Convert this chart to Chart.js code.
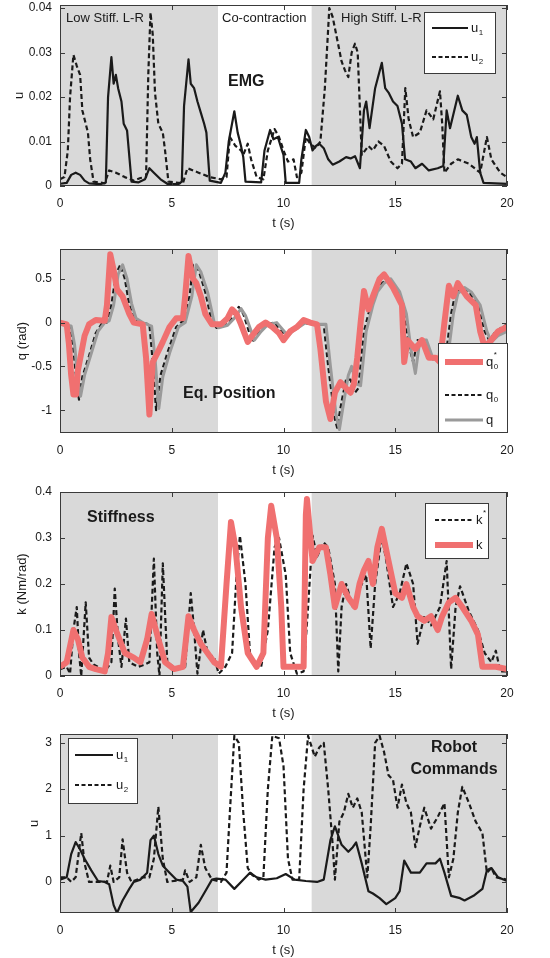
<!DOCTYPE html>
<html>
<head>
<meta charset="utf-8">
<script src="https://cdn.jsdelivr.net/npm/chart.js@4.4.1/dist/chart.umd.min.js"></script>
<style>
html, body { margin: 0; padding: 0; background: #fff; }
#wrap { position: relative; width: 550px; height: 958px; }
canvas { position: absolute; left: 0; }
</style>
</head>
<body>
<div id="wrap">
  <canvas id="c1" width="550" height="231" style="top:0px"></canvas>
  <canvas id="c2" width="550" height="239" style="top:239px"></canvas>
  <canvas id="c3" width="550" height="239" style="top:482px"></canvas>
  <canvas id="c4" width="550" height="234" style="top:724px"></canvas>
</div>
<script>
// ===== data (t [s], value) =====
const xTicks = [0, 5, 10, 15, 20];
const grayZones = [[0, 7.07], [11.26, 20]];

// EMG
const emgTicks = [0, 0.01, 0.02, 0.03, 0.04];
const emgU1 = [[0,0.0005],[0.3,0.0007],[0.5,0.0025],[0.7,0.003],[0.9,0.0025],[1.1,0.0012],[1.3,0.0006],[1.8,0.0004],[2.05,0.0008],[2.15,0.02],[2.3,0.029],[2.4,0.023],[2.5,0.025],[2.6,0.022],[2.75,0.019],[2.85,0.014],[3.0,0.0125],[3.2,0.001],[3.5,0.0008],[3.8,0.0015],[4.0,0.004],[4.2,0.003],[4.5,0.0015],[4.8,0.0005],[5.3,0.0004],[5.45,0.001],[5.55,0.018],[5.75,0.0285],[5.85,0.023],[6.0,0.022],[6.15,0.019],[6.3,0.0165],[6.45,0.014],[6.55,0.012],[6.7,0.0012],[7.2,0.0007],[7.4,0.003],[7.55,0.01],[7.8,0.0168],[7.95,0.012],[8.1,0.009],[8.2,0.0065],[8.3,0.001],[9.0,0.0008],[9.15,0.008],[9.4,0.0126],[9.55,0.0105],[9.75,0.011],[9.9,0.0085],[10.0,0.007],[10.1,0.0007],[10.7,0.0007],[10.8,0.006],[11.0,0.0126],[11.15,0.011],[11.3,0.008],[11.45,0.009],[11.6,0.0095],[11.8,0.0085],[12.0,0.006],[12.2,0.0048],[12.5,0.0055],[12.8,0.0065],[13.0,0.0062],[13.2,0.0067],[13.42,0.004],[13.6,0.017],[13.7,0.019],[13.85,0.013],[14.1,0.022],[14.4,0.0277],[14.55,0.022],[14.7,0.021],[14.9,0.019],[15.1,0.018],[15.3,0.014],[15.44,0.006],[15.7,0.0055],[15.9,0.004],[16.2,0.005],[16.5,0.0035],[16.9,0.004],[17.15,0.0045],[17.3,0.017],[17.45,0.013],[17.8,0.0203],[18.0,0.017],[18.2,0.016],[18.4,0.011],[18.55,0.0095],[18.65,0.011],[18.8,0.003],[18.95,0.0007],[20,0.0005]];
const emgU2 = [[0,0.0015],[0.2,0.002],[0.35,0.008],[0.45,0.02],[0.6,0.0295],[0.75,0.027],[0.9,0.025],[1.0,0.017],[1.1,0.015],[1.25,0.012],[1.35,0.006],[1.5,0.001],[2.0,0.0006],[2.2,0.0035],[2.5,0.003],[2.9,0.002],[3.3,0.0012],[3.6,0.0018],[3.85,0.002],[3.95,0.025],[4.05,0.039],[4.15,0.034],[4.25,0.021],[4.4,0.014],[4.6,0.012],[4.7,0.008],[4.85,0.001],[5.5,0.0006],[5.7,0.004],[6.2,0.003],[6.7,0.002],[7.2,0.0015],[7.45,0.002],[7.6,0.011],[7.85,0.009],[8.1,0.008],[8.2,0.007],[8.4,0.0095],[8.55,0.006],[8.8,0.002],[9.1,0.0015],[9.3,0.008],[9.6,0.0128],[9.8,0.011],[10.0,0.008],[10.2,0.0055],[10.45,0.006],[10.6,0.002],[10.8,0.003],[11.0,0.011],[11.2,0.0095],[11.45,0.0085],[11.65,0.01],[11.85,0.022],[12.05,0.040],[12.2,0.038],[12.4,0.033],[12.6,0.028],[12.75,0.026],[12.9,0.0245],[13.05,0.030],[13.2,0.032],[13.32,0.03],[13.5,0.007],[13.8,0.009],[14.0,0.008],[14.25,0.010],[14.5,0.009],[14.8,0.0055],[15.1,0.004],[15.3,0.005],[15.45,0.022],[15.6,0.015],[15.8,0.011],[16.1,0.012],[16.4,0.017],[16.7,0.015],[17.0,0.0213],[17.1,0.014],[17.2,0.003],[17.5,0.005],[17.8,0.006],[18.3,0.005],[18.8,0.003],[19.1,0.011],[19.3,0.006],[19.7,0.003],[20,0.002]];

// Eq. Position
const eqTicks = [-1, -0.5, 0, 0.5];
const eqQ0star = [[0,0],[0.3,-0.02],[0.4,-0.25],[0.5,-0.6],[0.6,-0.82],[0.72,-0.82],[0.8,-0.55],[0.95,-0.35],[1.1,-0.15],[1.3,-0.02],[1.6,0.03],[2.0,0.02],[2.1,0.2],[2.25,0.78],[2.4,0.6],[2.55,0.38],[2.8,0.3],[3.1,0.1],[3.3,0.0],[3.7,-0.02],[3.85,-0.4],[4.0,-1.05],[4.15,-0.45],[4.35,-0.35],[4.6,-0.22],[4.9,-0.05],[5.2,0.05],[5.5,0.05],[5.6,0.3],[5.75,0.76],[5.95,0.5],[6.1,0.45],[6.3,0.3],[6.5,0.1],[6.8,-0.02],[7.2,-0.02],[7.5,0.05],[7.7,0.15],[7.9,0.1],[8.1,-0.02],[8.4,-0.22],[8.6,-0.15],[8.9,-0.05],[9.2,0.0],[9.5,-0.05],[9.8,-0.12],[10.0,-0.2],[10.3,-0.1],[10.6,-0.05],[10.9,0.03],[11.2,0.0],[11.5,-0.02],[11.65,-0.3],[11.9,-0.9],[12.1,-1.1],[12.3,-0.8],[12.55,-0.68],[12.8,-0.75],[13.0,-0.8],[13.15,-0.7],[13.3,-0.4],[13.45,0.0],[13.6,0.36],[13.8,0.15],[14.0,0.3],[14.3,0.5],[14.5,0.55],[14.9,0.4],[15.1,0.3],[15.3,0.2],[15.4,-0.45],[15.55,-0.2],[15.9,-0.3],[16.2,-0.2],[16.5,-0.4],[16.8,-0.4],[17.0,-0.45],[17.2,0.0],[17.4,0.42],[17.6,0.3],[17.8,0.45],[18.2,0.3],[18.6,0.2],[18.8,-0.1],[19.0,-0.28],[19.3,-0.2],[19.6,-0.1],[20,-0.05]];
const eqQ0 = [[0,-0.02],[0.45,-0.04],[0.6,-0.3],[0.75,-0.7],[0.85,-0.88],[1.0,-0.62],[1.3,-0.38],[1.6,-0.12],[1.9,0.0],[2.1,0.0],[2.3,0.2],[2.5,0.55],[2.7,0.66],[2.9,0.5],[3.1,0.2],[3.3,0.05],[3.6,0.0],[4.0,-0.02],[4.1,-0.3],[4.3,-1.0],[4.5,-0.6],[4.8,-0.35],[5.2,-0.05],[5.5,0.02],[5.8,0.3],[5.95,0.66],[6.2,0.6],[6.5,0.35],[6.8,0.0],[7.0,-0.06],[7.4,-0.03],[7.7,0.05],[8.0,0.18],[8.2,0.1],[8.6,-0.22],[8.9,-0.1],[9.2,-0.02],[9.6,0.0],[10.1,-0.16],[10.3,-0.1],[10.6,-0.05],[10.9,0.0],[11.2,-0.02],[11.8,-0.02],[12.0,-0.5],[12.3,-1.1],[12.4,-1.2],[12.6,-0.9],[12.8,-0.65],[13.0,-0.65],[13.2,-0.8],[13.35,-0.75],[13.6,-0.1],[13.9,0.2],[14.1,0.35],[14.4,0.45],[14.7,0.5],[15.1,0.35],[15.4,0.1],[15.6,-0.25],[15.8,-0.45],[16.0,-0.2],[16.3,-0.22],[16.6,-0.4],[17.0,-0.4],[17.3,-0.3],[17.5,0.1],[17.7,0.35],[18.0,0.4],[18.3,0.35],[18.7,0.2],[19.0,-0.1],[19.2,-0.2],[19.5,-0.1],[20,-0.02]];
const eqQ = [[0,-0.02],[0.5,-0.04],[0.65,-0.25],[0.8,-0.65],[0.92,-0.84],[1.1,-0.6],[1.4,-0.35],[1.7,-0.1],[2.0,0.0],[2.2,0.02],[2.4,0.2],[2.6,0.55],[2.8,0.66],[3.0,0.5],[3.2,0.22],[3.4,0.05],[3.7,0.0],[4.1,-0.04],[4.25,-0.4],[4.42,-0.98],[4.6,-0.62],[4.9,-0.35],[5.3,-0.05],[5.6,0.0],[5.9,0.3],[6.1,0.66],[6.3,0.58],[6.6,0.35],[6.9,0.0],[7.1,-0.06],[7.5,-0.03],[7.8,0.05],[8.1,0.16],[8.3,0.08],[8.7,-0.2],[9.0,-0.1],[9.3,-0.02],[9.7,0.0],[10.2,-0.15],[10.4,-0.1],[10.7,-0.05],[11.0,0.0],[11.3,-0.02],[11.9,-0.02],[12.1,-0.5],[12.35,-1.05],[12.5,-1.22],[12.7,-0.9],[12.9,-0.6],[13.05,-0.5],[13.25,-0.7],[13.45,-0.72],[13.7,-0.1],[14.0,0.2],[14.2,0.35],[14.5,0.45],[14.8,0.5],[15.2,0.35],[15.5,0.1],[15.7,-0.3],[15.9,-0.58],[16.1,-0.2],[16.4,-0.2],[16.7,-0.42],[17.1,-0.4],[17.4,-0.3],[17.6,0.1],[17.8,0.33],[18.1,0.4],[18.4,0.35],[18.8,0.2],[19.1,-0.1],[19.3,-0.22],[19.6,-0.15],[20,-0.1]];

// Stiffness
const kTicks = [0, 0.1, 0.2, 0.3, 0.4];
const kStar = [[0,0.015],[0.3,0.02],[0.45,0.005],[0.6,0.1],[0.75,0.15],[0.85,0.05],[0.95,0.0],[1.15,0.16],[1.3,0.04],[1.5,0.025],[1.7,0.02],[2.0,0.01],[2.3,0.03],[2.45,0.19],[2.6,0.08],[2.75,0.02],[2.95,0.125],[3.1,0.03],[3.5,0.02],[3.8,0.025],[4.0,0.03],[4.2,0.255],[4.35,0.05],[4.45,0.0],[4.6,0.245],[4.8,0.03],[5.2,0.015],[5.6,0.02],[5.85,0.18],[6.0,0.1],[6.15,0.005],[6.4,0.1],[6.6,0.05],[6.9,0.04],[7.1,0.005],[7.4,0.02],[7.7,0.05],[7.9,0.22],[8.05,0.305],[8.3,0.2],[8.5,0.05],[8.8,0.02],[9.0,0.02],[9.3,0.1],[9.6,0.28],[9.8,0.3],[10.1,0.22],[10.3,0.05],[10.6,0.005],[10.9,0.01],[11.1,0.15],[11.3,0.305],[11.5,0.26],[11.8,0.29],[12.0,0.28],[12.3,0.2],[12.45,0.01],[12.6,0.15],[12.8,0.2],[13.1,0.15],[13.5,0.2],[13.7,0.22],[13.9,0.06],[14.1,0.2],[14.4,0.305],[14.6,0.25],[14.9,0.15],[15.2,0.18],[15.5,0.245],[15.8,0.2],[16.0,0.07],[16.3,0.13],[16.6,0.11],[17.0,0.15],[17.3,0.25],[17.5,0.015],[17.7,0.15],[17.9,0.195],[18.3,0.14],[18.7,0.1],[19.0,0.05],[19.3,0.03],[19.5,0.055],[19.7,0.01],[20,0.01]];
const kVal = [[0,0.02],[0.3,0.03],[0.6,0.1],[0.8,0.08],[1.0,0.04],[1.3,0.02],[1.6,0.015],[2.0,0.01],[2.15,0.05],[2.3,0.128],[2.5,0.1],[2.9,0.05],[3.3,0.04],[3.6,0.03],[3.9,0.08],[4.1,0.135],[4.4,0.08],[4.7,0.03],[5.1,0.015],[5.5,0.02],[5.75,0.13],[6.0,0.1],[6.3,0.07],[6.6,0.05],[6.9,0.03],[7.2,0.02],[7.45,0.2],[7.65,0.335],[7.85,0.28],[8.1,0.15],[8.4,0.05],[8.8,0.02],[9.1,0.05],[9.3,0.3],[9.45,0.37],[9.7,0.3],[9.9,0.15],[10.0,0.02],[10.5,0.02],[10.9,0.02],[11.0,0.35],[11.05,0.385],[11.3,0.25],[11.6,0.28],[11.9,0.28],[12.1,0.22],[12.3,0.15],[12.6,0.2],[12.9,0.17],[13.2,0.15],[13.4,0.2],[13.6,0.23],[13.8,0.25],[14.0,0.2],[14.2,0.28],[14.4,0.32],[14.7,0.25],[15.0,0.18],[15.3,0.17],[15.5,0.2],[15.8,0.15],[16.0,0.13],[16.3,0.12],[16.6,0.13],[16.9,0.1],[17.1,0.13],[17.4,0.16],[17.7,0.17],[18.0,0.15],[18.4,0.12],[18.7,0.09],[18.9,0.02],[19.5,0.02],[20,0.015]];

// Robot commands
const rcTicks = [0, 1, 2, 3];
const rcU1 = [[0,0.05],[0.3,0.1],[0.5,0.6],[0.7,0.86],[0.9,0.7],[1.1,0.5],[1.4,0.25],[1.7,0.02],[2.0,0.0],[2.2,-0.05],[2.4,-0.5],[2.55,-0.67],[2.8,-0.4],[3.1,-0.15],[3.3,0.0],[3.6,0.05],[3.9,0.2],[4.05,0.9],[4.2,1.0],[4.4,0.6],[4.6,0.35],[4.9,0.2],[5.2,0.05],[5.5,0.02],[5.7,-0.1],[5.85,-0.65],[6.2,-0.45],[6.5,-0.2],[6.8,0.05],[7.0,0.07],[7.4,0.05],[7.8,-0.15],[8.1,0.0],[8.5,0.2],[8.8,0.1],[9.2,0.05],[9.7,0.08],[10.1,0.17],[10.5,0.05],[11.0,0.02],[11.5,0.0],[11.8,0.05],[12.1,0.9],[12.3,1.2],[12.6,0.8],[12.9,0.65],[13.1,0.75],[13.25,0.85],[13.5,0.4],[13.8,-0.2],[14.0,-0.25],[14.3,-0.35],[14.6,-0.48],[15.0,-0.35],[15.2,-0.2],[15.4,0.46],[15.7,0.2],[16.1,0.2],[16.4,0.4],[16.8,0.4],[17.0,0.5],[17.2,0.2],[17.5,-0.3],[17.9,-0.35],[18.1,-0.4],[18.5,-0.3],[18.9,-0.15],[19.1,0.25],[19.3,0.3],[19.6,0.1],[20,0.02]];
const rcU2 = [[0,0.1],[0.3,0.1],[0.5,0.0],[0.7,0.1],[0.95,1.05],[1.1,0.4],[1.3,0.0],[2.1,0.0],[2.25,0.35],[2.4,0.0],[2.65,0.1],[2.8,0.92],[3.0,0.2],[3.2,0.0],[3.7,0.1],[4.0,0.1],[4.2,0.5],[4.4,1.62],[4.6,0.5],[4.8,0.0],[5.5,0.05],[5.6,0.25],[5.8,0.0],[6.1,0.1],[6.3,0.8],[6.5,0.3],[6.8,0.05],[7.2,0.0],[7.45,0.2],[7.6,1.5],[7.8,3.15],[8.0,3.0],[8.2,1.5],[8.4,0.3],[8.6,0.15],[8.9,0.05],[9.1,0.1],[9.3,2.0],[9.5,3.15],[9.8,3.1],[10.0,2.5],[10.2,0.5],[10.4,0.05],[10.7,0.05],[10.9,2.0],[11.1,3.15],[11.4,2.7],[11.6,2.9],[11.8,3.0],[12.0,2.0],[12.2,0.8],[12.3,0.05],[12.5,1.3],[12.7,1.5],[12.9,1.9],[13.1,1.6],[13.3,1.8],[13.5,1.5],[13.75,0.1],[13.9,1.2],[14.1,3.0],[14.3,3.15],[14.5,2.8],[14.7,2.3],[14.9,2.2],[15.1,1.6],[15.3,2.1],[15.5,1.7],[15.7,1.5],[15.9,0.75],[16.1,1.2],[16.3,1.6],[16.6,1.15],[16.9,1.4],[17.2,1.7],[17.4,0.1],[17.6,0.5],[17.8,1.5],[18.0,2.05],[18.3,1.7],[18.6,1.3],[18.9,1.05],[19.1,0.2],[19.3,0.3],[19.5,0.1],[20,0.05]];

// ===== style =====
const FONT = "'Liberation Sans', Arial, Helvetica, sans-serif";
const INK = '#1a1a1a';
const RED = '#f07070';
const GRAY = '#9a9a9a';
const BG = '#d9d9d9';

function pts(arr) { return arr.map(([x, y]) => ({ x, y })); }

function drawName(ctx, x, y, base, sub, sup) {
  ctx.fillStyle = INK;
  ctx.textAlign = 'left';
  ctx.textBaseline = 'middle';
  ctx.font = `13px ${FONT}`;
  ctx.fillText(base, x, y);
  const w = ctx.measureText(base).width;
  ctx.font = `8px ${FONT}`;
  if (sub) ctx.fillText(sub, x + w + 0.5, y + 5);
  if (sup) ctx.fillText(sup, x + w + 0.5, y - 7);
}

// background bands, box, inward ticks, legend, annotations
function decor(cfg) {
  const dy = cfg.top - 5; // extra top padding of this canvas
  return {
    id: 'decor',
    beforeDatasetsDraw(chart) {
      const { ctx, chartArea: a, scales: { x } } = chart;
      ctx.save();
      ctx.fillStyle = BG;
      for (const [s, e] of grayZones) {
        const x0 = x.getPixelForValue(s), x1 = x.getPixelForValue(e);
        ctx.fillRect(x0, a.top, x1 - x0, a.bottom - a.top);
      }
      ctx.restore();
    },
    afterDatasetsDraw(chart) {
      const { ctx, chartArea: a, scales: { x, y } } = chart;
      ctx.save();
      ctx.strokeStyle = '#3a3a3a';
      ctx.lineWidth = 1;
      ctx.strokeRect(a.left + 0.5, a.top + 0.5, a.right - a.left - 1, a.bottom - a.top - 1);
      ctx.beginPath();
      for (const t of x.ticks) {
        const px = Math.round(x.getPixelForValue(t.value)) + 0.5;
        ctx.moveTo(px, a.bottom); ctx.lineTo(px, a.bottom - 5);
        ctx.moveTo(px, a.top); ctx.lineTo(px, a.top + 5);
      }
      for (const t of y.ticks) {
        const py = Math.round(y.getPixelForValue(t.value)) + 0.5;
        ctx.moveTo(a.left, py); ctx.lineTo(a.left + 5, py);
        ctx.moveTo(a.right, py); ctx.lineTo(a.right - 5, py);
      }
      ctx.stroke();

      ctx.translate(0, dy);
      // annotations
      for (const n of cfg.notes) {
        ctx.fillStyle = INK;
        ctx.font = `${n.bold ? 'bold 16px' : '13px'} ${FONT}`;
        ctx.textAlign = n.align || 'left';
        ctx.textBaseline = 'middle';
        ctx.fillText(n.text, n.x, n.y);
      }

      // legend
      const L = cfg.legend;
      ctx.fillStyle = '#fff';
      ctx.fillRect(L.box[0], L.box[1], L.box[2], L.box[3]);
      ctx.strokeStyle = '#3a3a3a';
      ctx.strokeRect(L.box[0] + 0.5, L.box[1] + 0.5, L.box[2], L.box[3]);
      for (const it of L.items) {
        ctx.beginPath();
        ctx.strokeStyle = it.color;
        ctx.lineWidth = it.width;
        ctx.setLineDash(it.dash || []);
        ctx.moveTo(L.line[0], it.y); ctx.lineTo(L.line[1], it.y);
        ctx.stroke();
        ctx.setLineDash([]);
        drawName(ctx, L.textX, it.y, it.base, it.sub, it.sup);
      }
      ctx.restore();
    }
  };
}

function makeChart(id, o) {
  return new Chart(document.getElementById(id), {
    type: 'line',
    data: { datasets: o.datasets },
    options: {
      responsive: false,
      animation: false,
      devicePixelRatio: 1,
      layout: { padding: { top: o.top, right: 43, left: 0, bottom: 0 } },
      elements: { point: { radius: 0 }, line: { tension: 0, borderJoinStyle: 'round' } },
      plugins: { legend: { display: false }, tooltip: { enabled: false } },
      scales: {
        x: {
          type: 'linear', min: 0, max: 20,
          afterBuildTicks: s => { s.ticks = xTicks.map(v => ({ value: v })); },
          afterFit: s => { s.height = 45; s.paddingLeft = 0; s.paddingRight = 0; },
          grid: { display: false, drawTicks: false },
          border: { display: false },
          ticks: { color: INK, font: { family: FONT, size: 12 }, padding: 10, maxRotation: 0, autoSkip: false },
          title: { display: true, text: 't (s)', color: INK, font: { family: FONT, size: 13 }, padding: { top: 0, bottom: 0 } }
        },
        y: {
          type: 'linear', min: o.ymin, max: o.ymax,
          afterBuildTicks: s => { s.ticks = o.yTicks.map(v => ({ value: v })); },
          afterFit: s => { s.width = 60; s.paddingTop = 0; s.paddingBottom = 0; },
          grid: { display: false, drawTicks: false },
          border: { display: false },
          ticks: { color: INK, font: { family: FONT, size: 12 }, padding: 8, callback: v => String(v) },
          title: { display: true, text: o.yTitle, color: INK, font: { family: FONT, size: 13 }, padding: { top: o.yTitlePad, bottom: 0 } }
        }
      }
    },
    plugins: [decor(o)]
  });
}

const solid = (data, w) => ({ data: pts(data), borderColor: INK, borderWidth: w || 2.2, fill: false });
const dashed = (data) => ({ data: pts(data), borderColor: INK, borderWidth: 2.2, borderDash: [5, 3], fill: false });

makeChart('c1', {
  top: 5, ymin: 0, ymax: 0.0407, yTicks: emgTicks, yTitle: 'u', yTitlePad: 12,
  datasets: [solid(emgU1), dashed(emgU2)],
  notes: [
    { text: 'Low Stiff. L-R', x: 66, y: 18 },
    { text: 'Co-contraction', x: 222, y: 18 },
    { text: 'High Stiff. L-R', x: 341, y: 18 },
    { text: 'EMG', x: 228, y: 82, bold: true }
  ],
  legend: {
    box: [424, 12, 71, 61], line: [432, 468], textX: 471,
    items: [
      { base: 'u', sub: '1', y: 28, color: INK, width: 2 },
      { base: 'u', sub: '2', y: 57, color: INK, width: 2, dash: [4, 2.5] }
    ]
  }
});

makeChart('c2', {
  top: 10, ymin: -1.26, ymax: 0.84, yTicks: eqTicks, yTitle: 'q (rad)', yTitlePad: 15,
  datasets: [
    { data: pts(eqQ0star), borderColor: RED, borderWidth: 6, fill: false },
    { data: pts(eqQ), borderColor: GRAY, borderWidth: 3, fill: false },
    dashed(eqQ0)
  ],
  notes: [{ text: 'Eq. Position', x: 183, y: 150, bold: true }],
  legend: {
    box: [438, 99, 69, 89], line: [445, 483], textX: 486,
    items: [
      { base: 'q', sub: '0', sup: '*', y: 118, color: RED, width: 6 },
      { base: 'q', sub: '0', y: 151, color: INK, width: 2, dash: [4, 2.5] },
      { base: 'q', y: 176, color: GRAY, width: 3 }
    ]
  }
});

makeChart('c3', {
  top: 10, ymin: 0, ymax: 0.4, yTicks: kTicks, yTitle: 'k (Nm/rad)', yTitlePad: 15,
  datasets: [
    { data: pts(kVal), borderColor: RED, borderWidth: 6, fill: false },
    dashed(kStar)
  ],
  notes: [{ text: 'Stiffness', x: 87, y: 31, bold: true }],
  legend: {
    box: [425, 16, 63, 55], line: [435, 473], textX: 476,
    items: [
      { base: 'k', sup: '*', y: 33, color: INK, width: 2, dash: [4, 2.5] },
      { base: 'k', y: 58, color: RED, width: 6 }
    ]
  }
});

makeChart('c4', {
  top: 10, ymin: -0.67, ymax: 3.19, yTicks: rcTicks, yTitle: 'u', yTitlePad: 27,
  datasets: [solid(rcU1), dashed(rcU2)],
  notes: [
    { text: 'Robot', x: 454, y: 19, bold: true, align: 'center' },
    { text: 'Commands', x: 454, y: 41, bold: true, align: 'center' }
  ],
  legend: {
    box: [68, 9, 69, 65], line: [75, 113], textX: 116,
    items: [
      { base: 'u', sub: '1', y: 26, color: INK, width: 2 },
      { base: 'u', sub: '2', y: 56, color: INK, width: 2, dash: [4, 2.5] }
    ]
  }
});
</script>
</body>
</html>
